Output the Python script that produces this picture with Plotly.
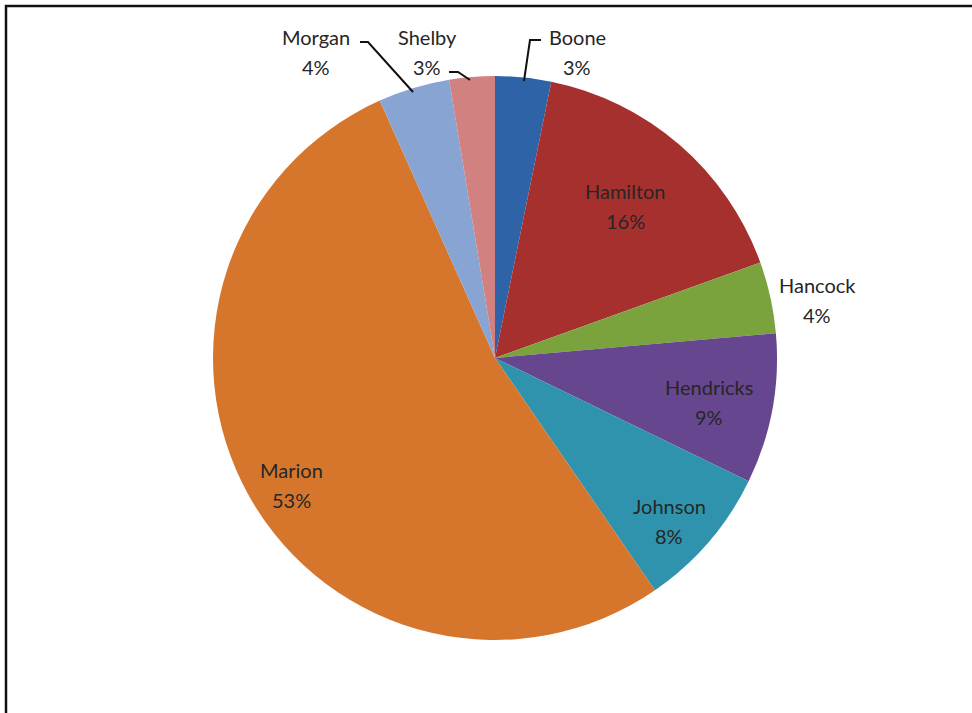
import plotly.graph_objects as go

counties = ["Boone", "Hamilton", "Hancock", "Hendricks", "Johnson", "Marion", "Morgan", "Shelby"]
shares = [3.2, 16.3, 4.1, 8.6, 8.2, 52.9, 4.1, 2.6]
colors = ["#2f63a8", "#a6302d", "#7ba33d", "#66478f", "#2f93ad", "#d6762d", "#87a4d3", "#d28181"]

W, H = 972, 713
cx, cy, r = 495, 358, 282

total = sum(shares)
pct = [round(v / total * 100) for v in shares]

fig = go.Figure(go.Pie(
    labels=counties,
    values=shares,
    sort=False,
    direction="clockwise",
    rotation=0,
    marker=dict(colors=colors, line=dict(width=0)),
    textinfo="none",
    hoverinfo="label+percent",
    domain=dict(x=[(cx - r) / W, (cx + r) / W], y=[1 - (cy + r) / H, 1 - (cy - r) / H]),
    showlegend=False,
))

# label positions (pixels, centre of two-line label)
label_pos = {
    "Boone": (577, 52),
    "Hamilton": (625, 206),
    "Hancock": (817, 300),
    "Hendricks": (709, 402),
    "Johnson": (669, 521),
    "Marion": (291, 485),
    "Morgan": (316, 52),
    "Shelby": (427, 52),
}

font = dict(family="Lato, Open Sans, sans-serif", size=20, color="#262626")
annotations = []
for name, p in zip(counties, pct):
    x, y = label_pos[name]
    for txt, yy in ((name, y - 15), (f"{p}%", y + 15)):
        annotations.append(dict(
            x=x / W, y=1 - yy / H, xref="paper", yref="paper",
            text=txt, showarrow=False, font=font,
            xanchor="center", yanchor="middle",
        ))

def px_path(pts):
    return "M " + " L ".join(f"{x / W:.5f},{1 - y / H:.5f}" for x, y in pts)

shapes = [
    # frame
    dict(type="rect", xref="paper", yref="paper", x0=6 / W, x1=1.05, y0=-0.05, y1=1 - 6 / H,
         line=dict(color="#111111", width=2.5), fillcolor="rgba(0,0,0,0)", layer="above"),
    # leader lines
    dict(type="path", xref="paper", yref="paper", path=px_path([(360, 42), (368, 42), (413, 92)]),
         line=dict(color="#111111", width=2)),
    dict(type="path", xref="paper", yref="paper", path=px_path([(449, 72), (458, 72), (470, 80)]),
         line=dict(color="#111111", width=2)),
    dict(type="path", xref="paper", yref="paper", path=px_path([(541, 40), (530, 40), (524, 81)]),
         line=dict(color="#111111", width=2)),
]

fig.update_layout(
    width=W, height=H,
    margin=dict(l=0, r=0, t=0, b=0),
    paper_bgcolor="white", plot_bgcolor="white",
    annotations=annotations, shapes=shapes,
)

fig.write_html("out.html", config={"displayModeBar": False},
               post_script="document.body.style.margin='0';")
